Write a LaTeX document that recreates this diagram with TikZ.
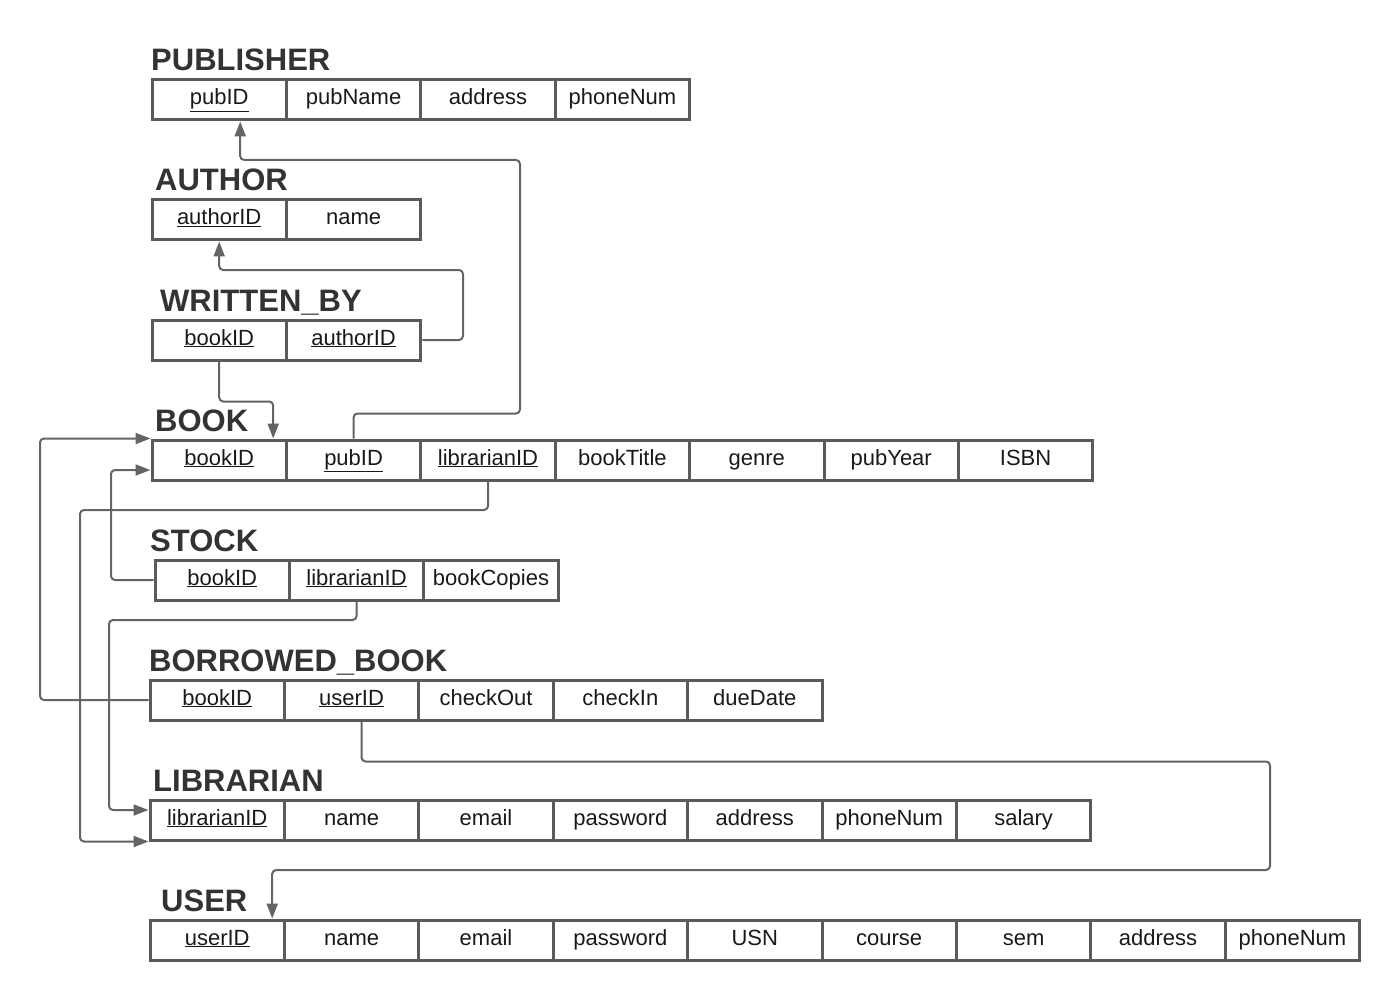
\documentclass[tikz,border=0pt]{standalone}
\usepackage{fontspec}
\setmainfont{Liberation Sans}
\usetikzlibrary{arrows.meta,calc}
\definecolor{boxline}{HTML}{5A5A5A}
\definecolor{wire}{HTML}{646464}
\definecolor{head}{HTML}{333333}
\tikzset{
  attr/.style={draw=boxline,line width=3pt,minimum width=134.4pt,minimum height=40pt,inner sep=0pt,
    text height=16pt,text depth=6pt,font=\fontsize{22}{26}\selectfont,text=black!90},
  relname/.style={anchor=base west,inner sep=0pt,font=\fontsize{31}{37}\selectfont\bfseries,text=head},
  fk/.style={draw=wire,line width=2pt,rounded corners=4pt,-{Triangle[length=15pt,width=11pt]}}
}
\begin{document}
\begin{tikzpicture}[x=1pt,y=-1pt]
  \useasboundingbox (0,0) rectangle (1399,1000);
  % relations
  \node[relname] (tpub) at (151,71) {PUBLISHER};
  \foreach \t[count=\i] in {\underline{pubID},pubName,address,phoneNum}
    \node[attr] (pub\i) at (152+134.4*\i-67.2,100) {\t};
  \node[relname] (tauth) at (155,191) {AUTHOR};
  \foreach \t[count=\i] in {\underline{authorID},name}
    \node[attr] (auth\i) at (152+134.4*\i-67.2,220) {\t};
  \node[relname] (twb) at (160,311) {WRITTEN\_BY};
  \foreach \t[count=\i] in {\underline{bookID},\underline{authorID}}
    \node[attr] (wb\i) at (152+134.4*\i-67.2,340) {\t};
  \node[relname] (tbook) at (155,431) {BOOK};
  \foreach \t[count=\i] in {\underline{bookID},\underline{pubID},\underline{librarianID},bookTitle,genre,pubYear,ISBN}
    \node[attr] (book\i) at (152+134.4*\i-67.2,460) {\t};
  \node[relname] (tstk) at (150,551) {STOCK};
  \foreach \t[count=\i] in {\underline{bookID},\underline{librarianID},bookCopies}
    \node[attr] (stk\i) at (155+134.4*\i-67.2,580) {\t};
  \node[relname] (tbb) at (149,671) {BORROWED\_BOOK};
  \foreach \t[count=\i] in {\underline{bookID},\underline{userID},checkOut,checkIn,dueDate}
    \node[attr] (bb\i) at (150+134.4*\i-67.2,700) {\t};
  \node[relname] (tlib) at (153,791) {LIBRARIAN};
  \foreach \t[count=\i] in {\underline{librarianID},name,email,password,address,phoneNum,salary}
    \node[attr] (lib\i) at (150+134.4*\i-67.2,820) {\t};
  \node[relname] (tuser) at (161,911) {USER};
  \foreach \t[count=\i] in {\underline{userID},name,email,password,USN,course,sem,address,phoneNum}
    \node[attr] (user\i) at (150+134.4*\i-67.2,940) {\t};
  % foreign keys
  \draw[fk] (book2.north) -- ++(0,-25) -| (520,160) -| ($(pub1.south)+(21,0)$);
  \draw[fk] (wb2.east) -| (463,270) -| (auth1.south);
  \draw[fk] (wb1.south) -- ++(0,40) -| ($(book1.north)+(54,0)$);
  \draw[fk] (bb1.west) -- (40,700) |- (book1.north west);
  \draw[fk] (stk1.west) -| (111,470) -- ($(book1.west)+(0,10)$);
  \draw[fk] (book3.south) |- (80,510) |- (lib1.south west);
  \draw[fk] (stk2.south) |- (109,620) |- ($(lib1.west)+(0,-10)$);
  \draw[fk] ($(bb2.south)+(10,0)$) -- ++(0,40) -| (1270,870) -| ($(user1.north)+(55,0)$);
\end{tikzpicture}
\end{document}
